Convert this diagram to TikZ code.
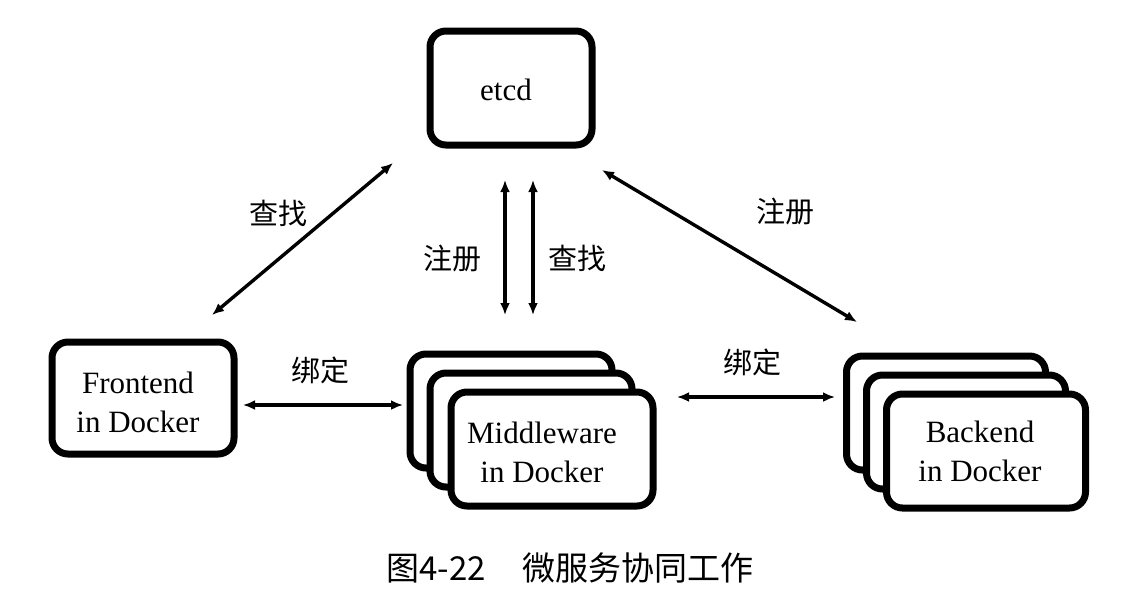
\documentclass[tikz,border=0pt]{standalone}
\usepackage{fontspec}
\setmainfont{Liberation Serif}
\newfontfamily\cjk{Noto Sans CJK SC}
\usetikzlibrary{arrows.meta}
\begin{document}
\begin{tikzpicture}[x=0.5pt,y=-0.5pt,
  box/.style={draw, line width=3.5pt, rounded corners=8pt, fill=white, inner sep=0pt},
  txt/.style={font=\fontsize{15.5}{19.5}\selectfont, align=center, inner sep=0pt},
  lab/.style={font=\cjk\fontsize{14.5}{16}\selectfont, inner sep=0pt},
  arr/.style={{Latex[length=6pt,width=5pt]}-{Latex[length=6pt,width=5pt]}, line width=1.7pt}]
\useasboundingbox (0,0) rectangle (1134,612);
% etcd
\node[box, minimum width=81pt, minimum height=57pt] (etcd) at (511,88) {};
\node[txt] (etcdt) at (506,90) {etcd};
% Frontend
\node[box, minimum width=91pt, minimum height=56pt] (fe) at (143,398) {};
\node[txt] (fet) at (138,402) {Frontend\\in Docker};
% Middleware stack
\node[box, minimum width=101pt, minimum height=57pt] (mwb) at (511,411) {};
\node[box, minimum width=101pt, minimum height=57pt] (mwm) at (531,430) {};
\node[box, minimum width=101pt, minimum height=57pt] (mw) at (552,449) {};
\node[txt] (mwt) at (542,452) {Middleware\\in Docker};
% Backend stack
\node[box, minimum width=99.5pt, minimum height=57pt] (beb) at (946,413) {};
\node[box, minimum width=99.5pt, minimum height=57pt] (bem) at (966,432) {};
\node[box, minimum width=99.5pt, minimum height=57pt] (be) at (986,451) {};
\node[txt] (bet) at (980,451) {Backend\\in Docker};
% connector end points
\coordinate (l1) at (212,315);
\coordinate (l2) at (393,163);
\coordinate (r1) at (602,170);
\coordinate (r2) at (857,322);
\coordinate (v1a) at (505,180);
\coordinate (v1b) at (505,315);
\coordinate (v2a) at (533,180);
\coordinate (v2b) at (533,315);
\coordinate (h1a) at (243,405);
\coordinate (h1b) at (403,405);
\coordinate (h2a) at (677,397);
\coordinate (h2b) at (835,397);
\draw[arr] (l1) -- (l2);
\draw[arr] (r1) -- (r2);
\draw[arr] (v1a) -- (v1b);
\draw[arr] (v2a) -- (v2b);
\draw[arr] (h1a) -- (h1b);
\draw[arr] (h2a) -- (h2b);
% labels
\node[lab] (t1) at (278,213) {查找};
\node[lab] (t2) at (785,212) {注册};
\node[lab] (t3) at (452,258) {注册};
\node[lab] (t4) at (577,258) {查找};
\node[lab] (t5) at (320,370) {绑定};
\node[lab] (t6) at (752,362) {绑定};
% caption
\node[font=\cjk\fontsize{16.5}{18}\selectfont, inner sep=0pt] (cap) at (570,568) {图4-22\hspace{1.1em}微服务协同工作};
\end{tikzpicture}
\end{document}
